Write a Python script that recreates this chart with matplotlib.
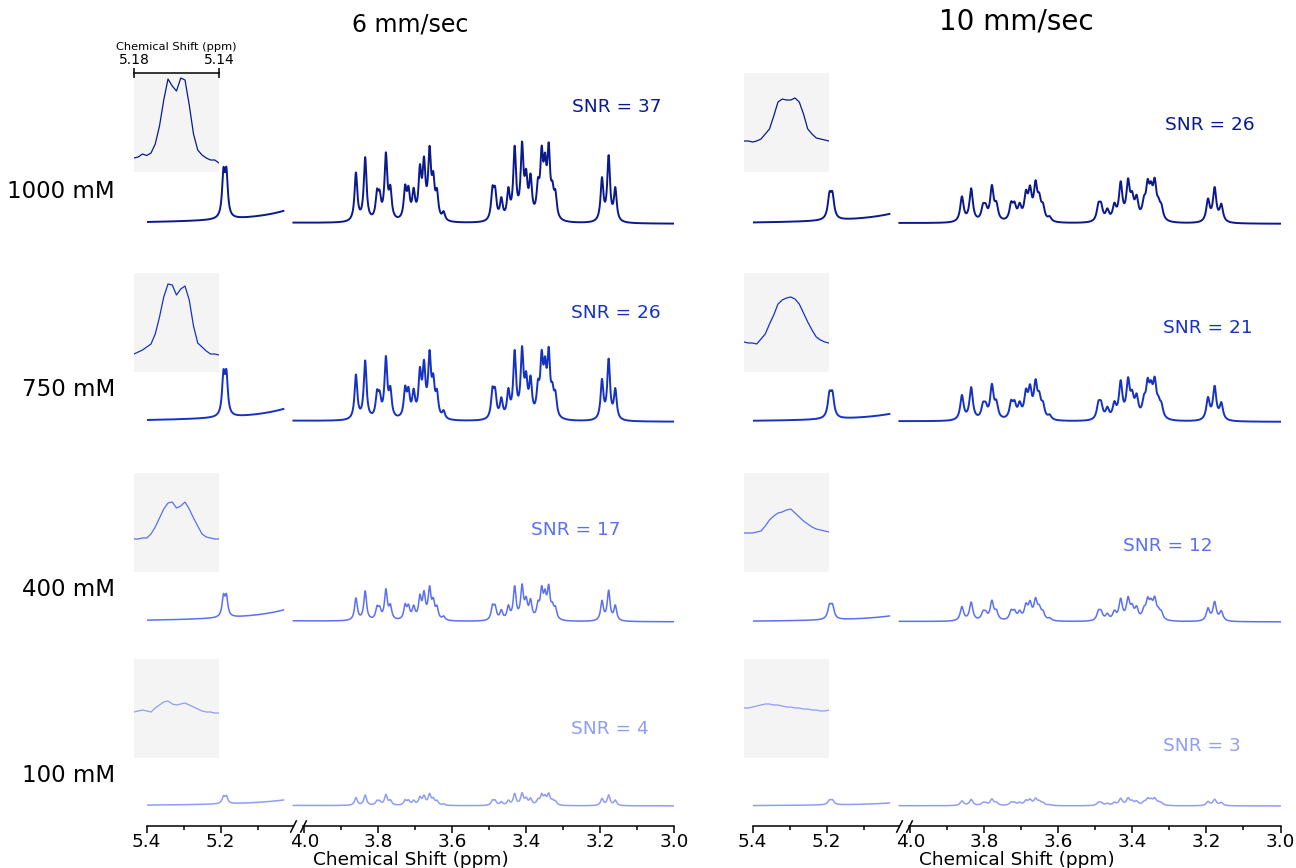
import numpy as np
import matplotlib.pyplot as plt

# ---------------- data ----------------
speeds = ["6 mm/sec", "10 mm/sec"]
concs = ["1000 mM", "750 mM", "400 mM", "100 mM"]
snr = [[37, 26, 17, 4], [26, 21, 12, 3]]
row_colors = ["#0a1a8c", "#1632c2", "#5b70f2", "#8e9df7"]

# peak list (ppm, stick height) read from the 1000 mM / 6 mm/sec trace
peak_ppm = [5.192, 5.184,
            3.861, 3.836, 3.804, 3.797, 3.780, 3.768, 3.728, 3.719, 3.705,
            3.688, 3.677, 3.662, 3.652, 3.642, 3.624,
            3.492, 3.485, 3.468, 3.449, 3.432, 3.412, 3.401, 3.389, 3.369,
            3.359, 3.350, 3.340, 3.330, 3.322,
            3.196, 3.178, 3.160]
peak_h = [42, 42,
          48, 63, 24, 20, 64, 28, 30, 26, 26,
          46, 52, 64, 34, 24, 8,
          28, 26, 20, 28, 70, 70, 36, 38, 28,
          58, 44, 64, 22, 22,
          42, 64, 32]
hwhm = [0.0045, 0.0055]                      # line half width per speed
panel_scale = [[1.0, 0.92, 0.46, 0.16],      # 6 mm/sec
               [0.52, 0.51, 0.29, 0.095]]    # 10 mm/sec
water_rise = [[13, 13, 12, 6], [10, 8, 6, 3]]  # baseline lift at 5.03 ppm

# insets: 5.18 -> 5.14 ppm, heights in inset units
inset_ppm = [5.180, 5.178, 5.176, 5.174, 5.172, 5.170, 5.168, 5.166, 5.164, 5.162,
             5.160, 5.158, 5.156, 5.154, 5.152, 5.150, 5.148, 5.146, 5.144, 5.142, 5.140]
inset_y = [
    [[14, 15, 18, 16.5, 19, 28, 46, 72, 93, 86, 81, 94, 92, 67, 38, 22, 17, 14, 12, 12, 9],
     [18, 20, 22, 25, 28, 38, 55, 75, 88, 87, 77, 83, 86, 72, 46, 29, 25, 21, 18, 18, 17],
     [33, 33, 34, 34, 38, 45, 54, 63, 69, 70, 64, 66, 70, 63, 54, 46, 38, 35, 34, 33, 33],
     [46, 47, 48, 47, 46, 50, 53, 56, 57, 54, 53, 54, 55, 53, 51, 49, 47, 46, 46, 45, 45]],
    [[31, 31, 30, 31, 33, 38, 43, 56, 70, 73, 72, 72, 74, 70, 58, 43, 38, 34, 33, 32, 31],
     [30, 29, 29, 28, 33, 38, 48, 57, 68, 72, 74, 75, 73, 68, 59, 50, 42, 35, 32, 30, 29],
     [39, 39, 39, 40, 41, 46, 52, 56, 59, 60, 62, 63, 59, 55, 51, 48, 45, 43, 42, 41, 40],
     [50, 50, 51, 52, 53, 54, 54, 53, 53, 52, 51, 51, 50, 50, 49, 49, 48, 48, 47, 47, 48]],
]

# ---------------- layout (pixels of the 1296x868 canvas) ----------------
W, H = 1296, 868
col_x = [146.5, 752.5]
col_w = 528
baselines = [224, 422, 622, 806]
inset_x = [134, 744]
inset_top = [73, 273, 473, 659]
snr_pos = [[(617, 107), (616, 313), (576, 530), (610, 729)],
           [(1210, 125), (1208, 328), (1168, 546), (1202, 746)]]

BRK_LO, BRK_HI, GAP = 4.03, 5.03, 0.027


def fwd(x):
    x = np.asarray(x, dtype=float)
    return np.interp(x, [0, BRK_LO, BRK_HI, 10], [0, BRK_LO, BRK_LO + GAP, 10 - (BRK_HI - BRK_LO) + GAP])


def inv(u):
    u = np.asarray(u, dtype=float)
    return np.interp(u, [0, BRK_LO, BRK_LO + GAP, 10 - (BRK_HI - BRK_LO) + GAP], [0, BRK_LO, BRK_HI, 10])


def spectrum(x, c, r):
    y = np.zeros_like(x)
    g = hwhm[c]
    for p, h in zip(peak_ppm, peak_h):
        y += h * g**2 / ((x - p)**2 + g**2)
    y *= panel_scale[c][r]
    gw = 0.05
    hw = water_rise[c][r] * ((BRK_HI - 4.80)**2 + gw**2) / gw**2
    y += hw * gw**2 / ((x - 4.80)**2 + gw**2)
    return y


def box(px, py, pw, ph):
    return [px / W, 1 - (py + ph) / H, pw / W, ph / H]


fig = plt.figure(figsize=(W / 100, H / 100), dpi=100)
plt.rcParams['font.family'] = 'DejaVu Sans'

x_left = np.arange(5.40, 5.03, -0.0005)
x_right = np.arange(4.03, 2.9999, -0.0005)

for c in range(2):
    for r in range(4):
        ax = fig.add_axes(box(col_x[c], baselines[r] - 150, col_w, 170))
        ax.set_xscale('function', functions=(fwd, inv))
        ax.set_xlim(5.4, 3.0)
        ax.set_ylim(-20, 150)
        ax.patch.set_visible(False)
        for s in ax.spines.values():
            s.set_visible(False)
        ax.set_yticks([])
        lw = 1.4 if r < 2 else 1.1
        ax.plot(x_left, spectrum(x_left, c, r), color=row_colors[r], lw=lw)
        ax.plot(x_right, spectrum(x_right, c, r), color=row_colors[r], lw=lw)

        if r == 3:
            tr = ax.get_xaxis_transform()
            ax.plot([5.4, 4.05], [0, 0], color='k', lw=1.1, transform=tr, clip_on=False)
            ax.plot([4.005, 3.0], [0, 0], color='k', lw=1.1, transform=tr, clip_on=False)
            ax.plot([4.05, 4.005], [0, 0], marker=[(-1, -2), (1, 2)], markersize=9, ls='none',
                    mew=1.1, color='k', transform=tr, clip_on=False)
            ax.set_xticks([5.4, 5.2, 4.0, 3.8, 3.6, 3.4, 3.2, 3.0])
            ax.set_xticklabels(["5.4", "5.2", "4.0", "3.8", "3.6", "3.4", "3.2", "3.0"])
            ax.set_xticks([5.3, 5.1, 3.9, 3.7, 3.5, 3.3, 3.1], minor=True)
            ax.tick_params(axis='x', which='major', length=5, width=1.1, labelsize=13.3, pad=0)
            ax.tick_params(axis='x', which='minor', length=3, width=1.1)
            ax.set_xlabel("Chemical Shift (ppm)", fontsize=13.3, labelpad=0)
        else:
            ax.set_xticks([])
            ax.set_xticks([], minor=True)

        # inset with the anomeric peak
        axi = fig.add_axes(box(inset_x[c], inset_top[r], 85, 99))
        axi.set_facecolor("#f4f4f4")
        axi.plot(inset_ppm, inset_y[c][r], color=row_colors[r], lw=0.9)
        axi.set_xlim(5.18, 5.14)
        axi.set_ylim(0, 99)
        axi.set_yticks([])
        for s in axi.spines.values():
            s.set_visible(False)
        if c == 0 and r == 0:
            axi.spines['top'].set_visible(True)
            axi.spines['top'].set_linewidth(1.1)
            axi.xaxis.tick_top()
            axi.xaxis.set_label_position('top')
            axi.set_xticks([5.18, 5.14])
            axi.set_xticklabels(["5.18", "5.14"])
            axi.tick_params(axis='x', direction='inout', length=7, width=1.1, labelsize=10, pad=1)
            axi.set_xlabel("Chemical Shift (ppm)", fontsize=8.2, labelpad=2)
        else:
            axi.set_xticks([])

        sx, sy = snr_pos[c][r]
        fig.text(sx / W, 1 - sy / H, f"SNR = {snr[c][r]}", color=row_colors[r],
                 fontsize=13.3, ha='center', va='center')

    fig.text((col_x[c] + col_w / 2) / W, 1 - (25 if c == 0 else 22) / H, speeds[c],
             fontsize=17 if c == 0 else 20, ha='center', va='center')

for r, lab in enumerate(concs):
    fig.text(115 / W, 1 - [192, 390, 590, 775][r] / H, lab, fontsize=16.5, ha='right', va='center')

fig.savefig("out.png", dpi=100)
